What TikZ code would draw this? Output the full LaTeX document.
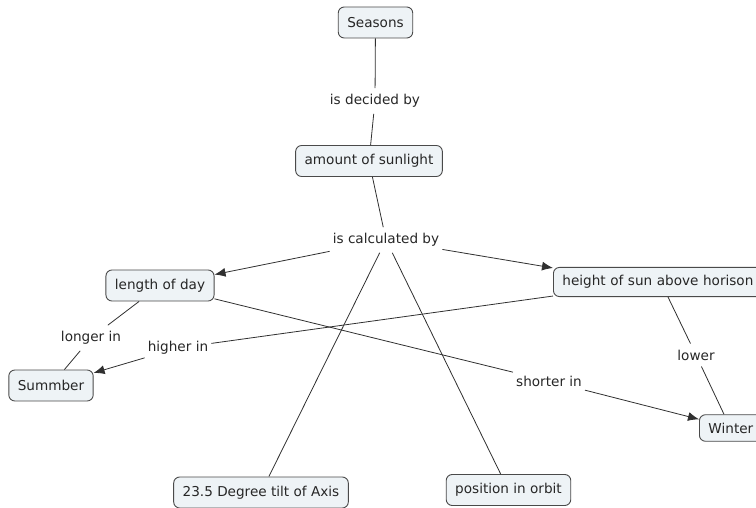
\documentclass[tikz,border=0pt]{standalone}
\usepackage{fontspec}
\setmainfont{DejaVu Sans}
\usetikzlibrary{arrows.meta}
\definecolor{boxfill}{HTML}{EEF3F6}
\definecolor{boxline}{HTML}{4A4A4A}
\definecolor{lnk}{HTML}{303030}
\begin{document}
\begin{tikzpicture}[x=1pt,y=-1pt,
  concept/.style={draw=boxline,fill=boxfill,rounded corners=6pt,line width=0.9pt,
    minimum height=31pt,inner xsep=9pt,font=\fontsize{13.6}{15}\selectfont,text=black!85},
  lbl/.style={inner xsep=3pt,inner ysep=6pt,font=\fontsize{13.6}{15}\selectfont,text=black!85},
  link/.style={draw=lnk,line width=0.8pt},
  arr/.style={link,-{Latex[length=11pt,width=9pt]}}]
\useasboundingbox (0,0) rectangle (756,508);
\clip (0,0) rectangle (756,508);
\node[concept] (seasons) at (375.5,22.5) {Seasons};
\node[concept] (sun) at (369,161) {amount of sunlight};
\node[concept] (day) at (160,285.5) {length of day};
\node[concept,anchor=west,text width=205pt,align=left,inner ysep=8pt,minimum height=0pt] (height) at (553,282) {height of sun above horison};
\node[concept] (summ) at (51,385.5) {Summber};
\node[concept,anchor=west,text width=60pt,align=left,inner ysep=8pt,minimum height=0pt] (winter) at (699,428) {Winter};
\node[concept] (tilt) at (261,492.5) {23.5 Degree tilt of Axis};
\node[concept] (orbit) at (508.5,490) {position in orbit};
\node[lbl] (decided) at (375,101) {is decided by};
\node[lbl] (calc) at (386,240) {is calculated by};
\node[lbl] (longer) at (91,338) {longer in};
\node[lbl] (higher) at (178,348) {higher in};
\node[lbl] (shorter) at (549,381) {shorter in};
\node[lbl] (lower) at (696,355) {lower};
\draw[link] (seasons) -- (decided);
\draw[link] (decided) -- (sun);
\draw[link] (sun) -- (calc);
\draw[arr] (calc) -- (day);
\draw[arr] (calc) -- ([yshift=-1pt]height.north west);
\draw[link] (calc) -- (tilt);
\draw[link] (calc) -- (orbit);
\draw[link] (day) -- (longer);
\draw[link] (longer) -- (summ);
\draw[link] ([yshift=1pt]height.south west) -- (higher);
\draw[arr] (higher) -- (summ);
\draw[link] (day) -- (shorter);
\draw[arr] (shorter) -- ([yshift=-5pt]winter.north west);
\draw[link] ([xshift=115pt]height.south west) -- (lower);
\draw[link] (lower) -- ([xshift=25pt]winter.north west);
\end{tikzpicture}
\end{document}
